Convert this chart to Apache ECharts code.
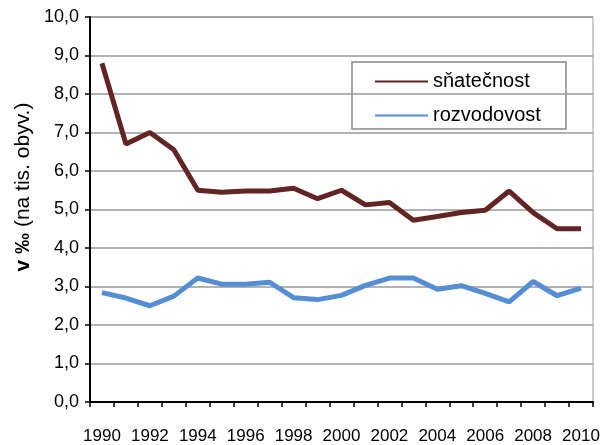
<!DOCTYPE html>
<html><head><meta charset="utf-8">
<script src="https://cdn.jsdelivr.net/npm/echarts@6/dist/echarts.min.js"></script>
<style>html,body{margin:0;padding:0;background:#fff}#c{width:603px;height:445px}</style>
</head><body><div id="c"></div>
<script>
const years = ['1990','1991','1992','1993','1994','1995','1996','1997','1998','1999','2000','2001','2002','2003','2004','2005','2006','2007','2008','2009','2010'];
const snatecnost = [8.8,6.7,7.0,6.55,5.5,5.45,5.48,5.48,5.55,5.28,5.5,5.12,5.18,4.72,4.82,4.92,4.98,5.48,4.92,4.5,4.5];
const rozvodovost = [2.84,2.7,2.5,2.75,3.22,3.06,3.06,3.11,2.71,2.66,2.77,3.03,3.22,3.22,2.93,3.02,2.82,2.6,3.13,2.76,2.96];
const yTicks = {min:0, max:10, interval:1};
const font = 'Liberation Sans, Arial, sans-serif';
const chart = echarts.init(document.getElementById('c'));
chart.setOption({
  animation:false,
  grid:{left:90,right:10,top:17,bottom:41,show:true,borderColor:'#999',borderWidth:1},
  legend:{left:375,top:71,orient:'vertical',itemWidth:53,itemHeight:2,icon:'rect',itemGap:13,padding:0,
    textStyle:{fontFamily:font,fontSize:20,color:'#000',lineHeight:21},
    data:['sňatečnost','rozvodovost']},
  graphic:[
    {type:'rect',shape:{x:352,y:62,width:214,height:67},style:{fill:'#fff',stroke:'#888',lineWidth:1.5},z:-1},
    {type:'text',x:23,y:187,rotation:Math.PI/2,style:{text:'{b|v ‰} (na tis. obyv.)',fontFamily:font,fontSize:21,fill:'#000',align:'center',verticalAlign:'middle',
      rich:{b:{fontWeight:'bold',fontSize:21,fontFamily:font}}}}
  ],
  xAxis:{type:'category',data:years,boundaryGap:true,
    axisLine:{lineStyle:{color:'#000',width:2}},
    axisTick:{show:true,interval:0,length:5,lineStyle:{color:'#000',width:1.5}},
    axisLabel:{interval:1,margin:26,fontFamily:font,fontSize:17,color:'#000'},
    splitLine:{show:false}},
  yAxis:{type:'value',min:yTicks.min,max:yTicks.max,interval:yTicks.interval,
    axisLine:{show:true,lineStyle:{color:'#000',width:2}},
    axisTick:{show:true,length:5,lineStyle:{color:'#000',width:1.5}},
    axisLabel:{margin:11,fontFamily:font,fontSize:18,color:'#000',formatter:v=>v.toFixed(1).replace('.',',')},
    splitLine:{lineStyle:{color:'#999',width:1.5}}},
  series:[
    {name:'sňatečnost',type:'line',data:snatecnost,symbol:'none',lineStyle:{color:'#632523',width:5},itemStyle:{color:'#632523'},z:3},
    {name:'rozvodovost',type:'line',data:rozvodovost,symbol:'none',lineStyle:{color:'#558ED5',width:5},itemStyle:{color:'#558ED5'},z:3}
  ]
});
</script></body></html>
